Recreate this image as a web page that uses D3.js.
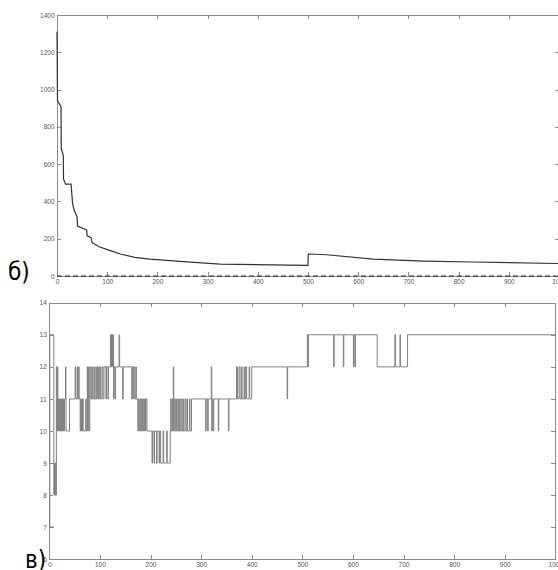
<!DOCTYPE html>
<html>
<head>
<meta charset="utf-8">
<script src="https://cdn.jsdelivr.net/npm/d3@7"></script>
<style>
body{margin:0;background:#fff;overflow:hidden}
.ax text{font-family:"Liberation Sans",Arial,sans-serif;font-size:6.5px;fill:#555}
.ax path,.ax line{stroke:#8c8c8c;shape-rendering:crispEdges}
.lbl{font-family:"Liberation Sans Narrow","DejaVu Sans Condensed",sans-serif;font-size:24px;fill:#000}
</style>
</head>
<body>
<script>
// top plot (б): decaying curve
var topX = [0, 1, 8, 8.5, 12.5, 13, 17, 28, 31, 34, 39, 40, 41, 59, 60, 64, 68, 70, 72, 84, 106, 126, 155, 185, 252, 325, 497, 500, 500.5, 537, 630, 730, 829, 1000]
var topY = [1310, 940, 910, 681, 649, 519, 493, 493, 390, 354, 323, 320, 268, 247, 215, 211, 205, 180, 175, 157, 136, 118, 100, 91, 77, 64, 57, 57, 118, 114, 91, 80, 75, 67]
var topYTicks = [0, 200, 400, 600, 800, 1000, 1200, 1400]

// bottom plot (в): step signal, [x, level] change points
var botSteps = [[0.5,7],[9,7],[1,13],[9,8],[10,9],[11,8],[12,9],[13,8],[14,12],[15,10],[16,12],[17,10],[18,11],[20,10],[21,11],[22,10],[24,11],[25,10],[26,11],[27,10],[28,11],[29,10],[30,11],[32,12],[33,10],[40,11],[51,12],[52,11],[55,12],[56,11],[58,12],[59,11],[61,10],[62,11],[63,10],[64,11],[65,10],[66,11],[67,10],[72,11],[73,10],[75,12],[76,10],[77,12],[78,11],[79,10],[80,12],[82,11],[84,12],[85,11],[88,12],[89,11],[92,12],[93,11],[95,12],[97,11],[99,12],[101,11],[104,12],[106,11],[108,12],[112,11],[113,12],[116,11],[117,12],[121,13],[122,12],[123,13],[125,12],[126,13],[127,11],[128,12],[130,11],[131,12],[138,13],[139,12],[145,11],[146,12],[163,11],[164,12],[166,11],[167,12],[169,11],[171,12],[172,11],[175,10],[176,11],[178,10],[180,11],[182,10],[184,11],[186,10],[188,11],[190,10],[191,11],[193,10],[203,9],[204,10],[207,9],[208,10],[212,9],[213,10],[217,9],[218,10],[220,9],[225,10],[226,9],[232,10],[233,9],[239,10],[240,11],[241,10],[243,11],[244,10],[245,12],[246,10],[248,11],[249,10],[251,11],[252,10],[254,11],[255,10],[257,11],[258,10],[260,11],[262,10],[264,11],[265,10],[268,11],[270,10],[272,11],[273,10],[277,11],[278,10],[281,11],[309,10],[310,11],[313,10],[314,11],[320,12],[321,10],[322,11],[324,10],[325,11],[334,10],[335,11],[354,10],[355,11],[370,12],[372,11],[375,12],[377,11],[380,12],[381,11],[385,12],[386,11],[388,12],[390,11],[395,12],[396,11],[400,12],[470,11],[471,12],[510,13],[511,12],[512,13],[562,12],[563,13],[581,12],[582,13],[601,12],[602,13],[604,12],[605,13],[648,12],[683,13],[684,12],[693,13],[694,12],[708,13],[1000,13]]
var botYTicks = [6, 7, 8, 9, 10, 11, 12, 13, 14]
var xTicks = [0, 100, 200, 300, 400, 500, 600, 700, 800, 900, 1000]

var svg = d3.select("body").append("svg")
    .attr("width", 558)
    .attr("height", 570)

var fmt = d3.format("d")

function frame(g, x, y, yTicks, x0, x1, y0, y1){
    g.append("g").attr("class","ax").attr("transform","translate(0,"+y0+")")
        .call(d3.axisBottom(x).tickValues(xTicks).tickFormat(fmt).tickSize(-4).tickSizeOuter(0).tickPadding(3))
    g.append("g").attr("class","ax").attr("transform","translate(0,"+y1+")")
        .call(d3.axisTop(x).tickValues(xTicks).tickSize(-4).tickSizeOuter(0).tickFormat(""))
    g.append("g").attr("class","ax").attr("transform","translate("+x0+",0)")
        .call(d3.axisLeft(y).tickValues(yTicks).tickFormat(fmt).tickSize(-4).tickSizeOuter(0).tickPadding(2.5))
    g.append("g").attr("class","ax").attr("transform","translate("+x1+",0)")
        .call(d3.axisRight(y).tickValues(yTicks).tickSize(-4).tickSizeOuter(0).tickFormat(""))
}

// ---- top
var x1 = d3.scaleLinear().domain([0,1000]).range([57,559])
var y1 = d3.scaleLinear().domain([0,1400]).range([276,15])
var g1 = svg.append("g")
frame(g1, x1, y1, topYTicks, 57, 559, 276, 15)

var topPts = topX.map(function(d,i){ return [d, topY[i]] })
g1.append("path")
    .attr("d", d3.line().x(function(d){return x1(d[0])}).y(function(d){return y1(d[1])})(topPts))
    .attr("fill","none")
    .attr("stroke","#333")
    .attr("stroke-width",1.2)

g1.append("path")
    .attr("d", d3.line().x(function(d){return x1(d)}).y(y1(0))([0,1000]))
    .attr("stroke","#222")
    .attr("stroke-width",1)
    .attr("stroke-dasharray","5,3")

// ---- bottom
var x2 = d3.scaleLinear().domain([0,1000]).range([49.3,555.3])
var y2 = d3.scaleLinear().domain([6,14]).range([559.3,302.7])
var g2 = svg.append("g")
frame(g2, x2, y2, botYTicks, 49.3, 555.3, 559.3, 302.7)

g2.append("path")
    .attr("d", d3.line().curve(d3.curveStepAfter)
        .x(function(d){return x2(d[0])}).y(function(d){return y2(d[1])})(botSteps))
    .attr("fill","none")
    .attr("stroke","#808080")
    .attr("stroke-width",1)

svg.append("text").attr("class","lbl").attr("x",8).attr("y",280).text("б)")
svg.append("text").attr("class","lbl").attr("x",25).attr("y",568).text("в)")
</script>
</body>
</html>
